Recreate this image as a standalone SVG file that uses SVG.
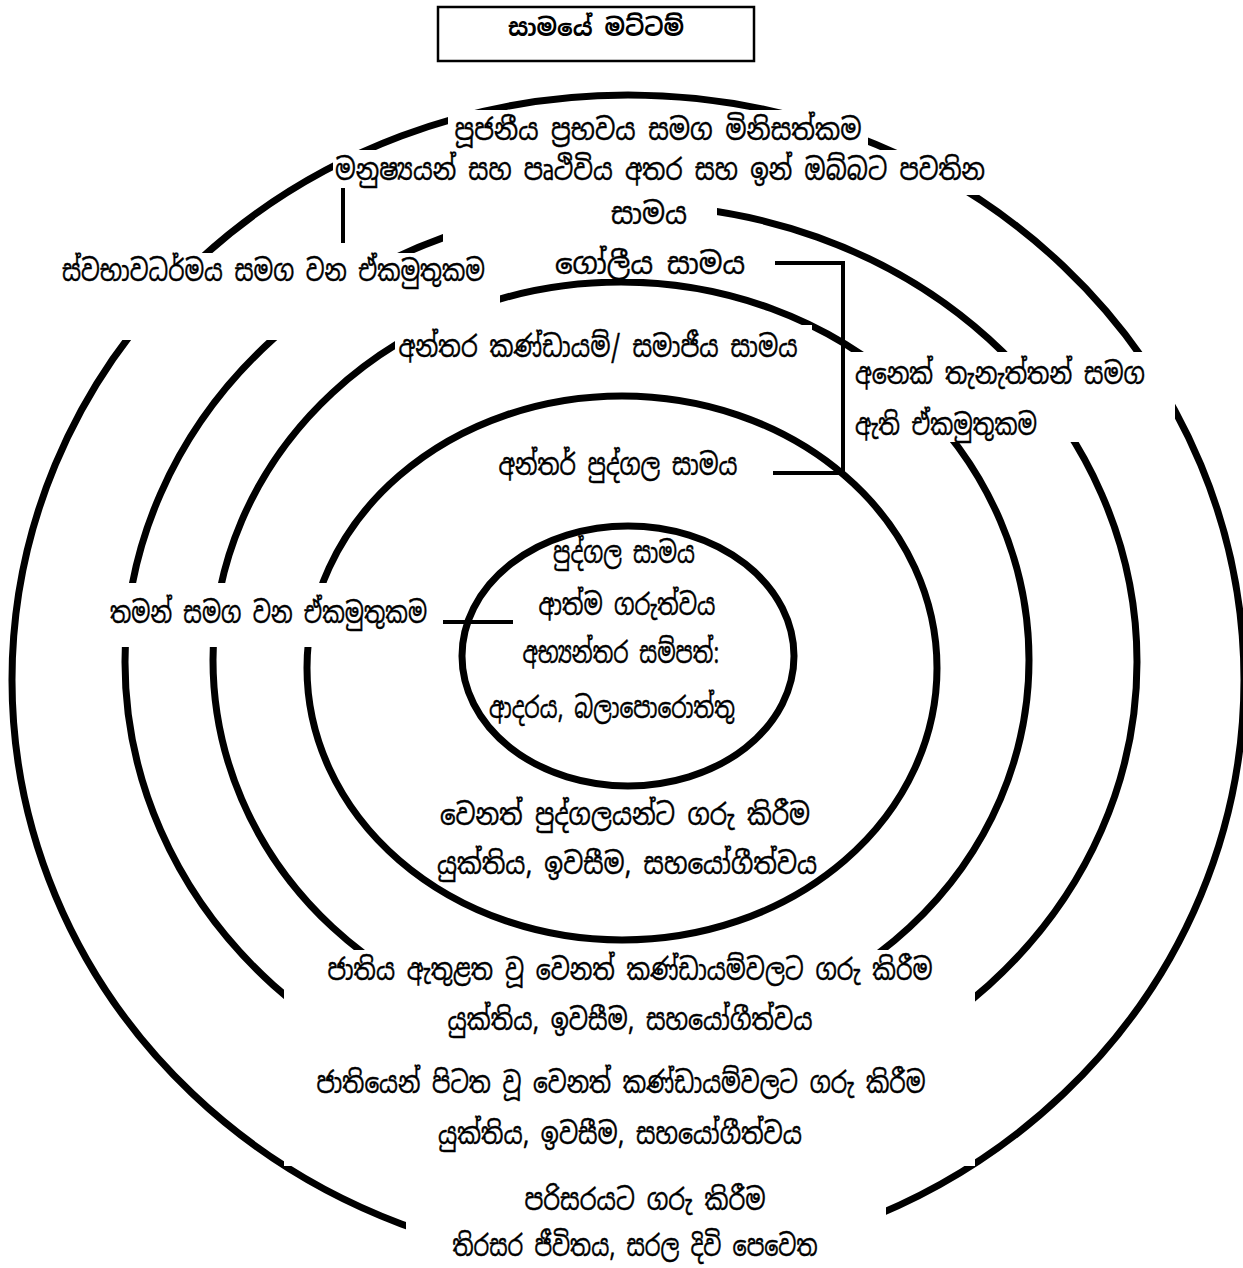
<svg xmlns="http://www.w3.org/2000/svg" width="1243" height="1268" viewBox="0 0 1243 1268">
<style>
.ring{fill:none;stroke:#000;stroke-width:7}
.bg{fill:#fff;stroke:none}
.t{font-family:"Noto Sans Sinhala","Noto Serif Sinhala","Iskoola Pota","Noto Sans",sans-serif;font-size:29px;fill:#000;stroke:#000;stroke-width:0.4;text-anchor:middle}
.tl{font-family:"Noto Sans Sinhala","Noto Serif Sinhala","Iskoola Pota","Noto Sans",sans-serif;font-size:29px;fill:#000;stroke:#000;stroke-width:0.4;text-anchor:start}
.title{font-family:"Noto Sans Sinhala","Noto Serif Sinhala","Iskoola Pota","Noto Sans",sans-serif;font-size:24px;font-weight:bold;fill:#000;text-anchor:middle}
.c{fill:none;stroke:#000;stroke-width:4}
</style>
<rect width="1243" height="1268" fill="#fff"/>
<g id="rings">
<ellipse class="ring" cx="628" cy="680" rx="616" ry="585"/>
<ellipse class="ring" cx="631" cy="662" rx="506" ry="457"/>
<ellipse class="ring" cx="621" cy="660" rx="408" ry="378"/>
<ellipse class="ring" cx="622" cy="668" rx="315" ry="272"/>
</g>
<g id="title">
<rect x="438" y="7" width="316" height="54" fill="#fff" stroke="#000" stroke-width="2.5"/>
<text class="title" x="596" y="36" textLength="176" lengthAdjust="spacingAndGlyphs">සාමයේ මට්ටම්</text>
</g>
<g id="node-global">
<rect class="bg" x="448" y="110" width="420" height="40"/>
<rect class="bg" x="333" y="150" width="654" height="45"/>
<rect class="bg" x="443" y="195" width="274" height="47"/>
<rect class="bg" x="520" y="242" width="252" height="37"/>
<text class="t" x="658" y="140" textLength="407" lengthAdjust="spacingAndGlyphs">පූජනීය ප්‍රභවය සමග මිනිසත්කම</text>
<text class="t" x="660" y="180" textLength="650" lengthAdjust="spacingAndGlyphs">මනුෂ්‍යයන් සහ පෘථිවිය අතර සහ ඉන් ඔබ්බට පවතින</text>
<text class="t" x="649" y="224" font-size="28" textLength="76" lengthAdjust="spacingAndGlyphs">සාමය</text>
<text class="t" x="650" y="274" font-size="28" textLength="190" lengthAdjust="spacingAndGlyphs">ගෝලීය සාමය</text>
</g>
<g id="node-nature">
<rect class="bg" x="55" y="253" width="445" height="87"/>
<text class="tl" x="62" y="281" font-size="27" textLength="423" lengthAdjust="spacingAndGlyphs">ස්වභාවධර්මය සමග වන ඒකමුතුකම</text>
</g>
<g id="node-intergroup">
<rect class="bg" x="395" y="325" width="417" height="55"/>
<text class="t" x="598" y="357" textLength="399" lengthAdjust="spacingAndGlyphs">අන්තර කණ්ඩායම්/ සමාජීය සාමය</text>
</g>
<g id="node-others">
<rect class="bg" x="847" y="352" width="328" height="90"/>
<text class="tl" x="855" y="384" textLength="290" lengthAdjust="spacingAndGlyphs">අනෙක් තැනැත්තන් සමග</text>
<text class="tl" x="855" y="435" textLength="182" lengthAdjust="spacingAndGlyphs">ඇති ඒකමුතුකම</text>
</g>
<g id="node-interpersonal">
<text class="t" x="618" y="475" textLength="239" lengthAdjust="spacingAndGlyphs">අන්තර් පුද්ගල සාමය</text>
</g>
<g id="node-self">
<rect class="bg" x="100" y="583" width="335" height="64"/>
<text class="tl" x="110" y="623" textLength="317" lengthAdjust="spacingAndGlyphs">තමන් සමග වන ඒකමුතුකම</text>
</g>
<g id="node-personal">
<text class="t" x="624" y="563" textLength="142" lengthAdjust="spacingAndGlyphs">පුද්ගල සාමය</text>
<text class="t" x="627" y="615" textLength="177" lengthAdjust="spacingAndGlyphs">ආත්ම ගරුත්වය</text>
<text class="t" x="621" y="663" textLength="197" lengthAdjust="spacingAndGlyphs">අභ්‍යන්තර සම්පත්:</text>
<text class="t" x="612" y="718" textLength="246" lengthAdjust="spacingAndGlyphs">ආදරය, බලාපොරොත්තු</text>
<ellipse class="ring" cx="628" cy="656" rx="166" ry="130"/>
</g>
<g id="node-respect-people">
<text class="t" x="625" y="825" textLength="370" lengthAdjust="spacingAndGlyphs">වෙනත් පුද්ගලයන්ට ගරු කිරීම</text>
<text class="t" x="627" y="874" textLength="380" lengthAdjust="spacingAndGlyphs">යුක්තිය, ඉවසීම, සහයෝගීත්වය</text>
</g>
<g id="node-respect-nation">
<rect class="bg" x="284" y="950" width="691" height="216"/>
<text class="t" x="630" y="980" textLength="605" lengthAdjust="spacingAndGlyphs">ජාතිය ඇතුළත වූ වෙනත් කණ්ඩායම්වලට ගරු කිරීම</text>
<text class="t" x="630" y="1030" textLength="365" lengthAdjust="spacingAndGlyphs">යුක්තිය, ඉවසීම, සහයෝගීත්වය</text>
</g>
<g id="node-respect-world">
<text class="t" x="621" y="1093" textLength="609" lengthAdjust="spacingAndGlyphs">ජාතියෙන් පිටත වූ වෙනත් කණ්ඩායම්වලට ගරු කිරීම</text>
<text class="t" x="620" y="1144" textLength="364" lengthAdjust="spacingAndGlyphs">යුක්තිය, ඉවසීම, සහයෝගීත්වය</text>
</g>
<g id="node-environment">
<rect class="bg" x="406" y="1172" width="480" height="96"/>
<text class="t" x="645" y="1210" textLength="241" lengthAdjust="spacingAndGlyphs">පරිසරයට ගරු කිරීම</text>
<text class="t" x="635" y="1256" textLength="365" lengthAdjust="spacingAndGlyphs">තිරසර ජීවිතය, සරල දිවි පෙවෙත</text>
</g>
<g id="connectors">
<line class="c" x1="343" y1="188" x2="343" y2="243"/>
<polyline class="c" points="775,263 843,263 843,473 773,473"/>
<line class="c" x1="443" y1="622" x2="513" y2="622" stroke-width="5"/>
</g>
</svg>
